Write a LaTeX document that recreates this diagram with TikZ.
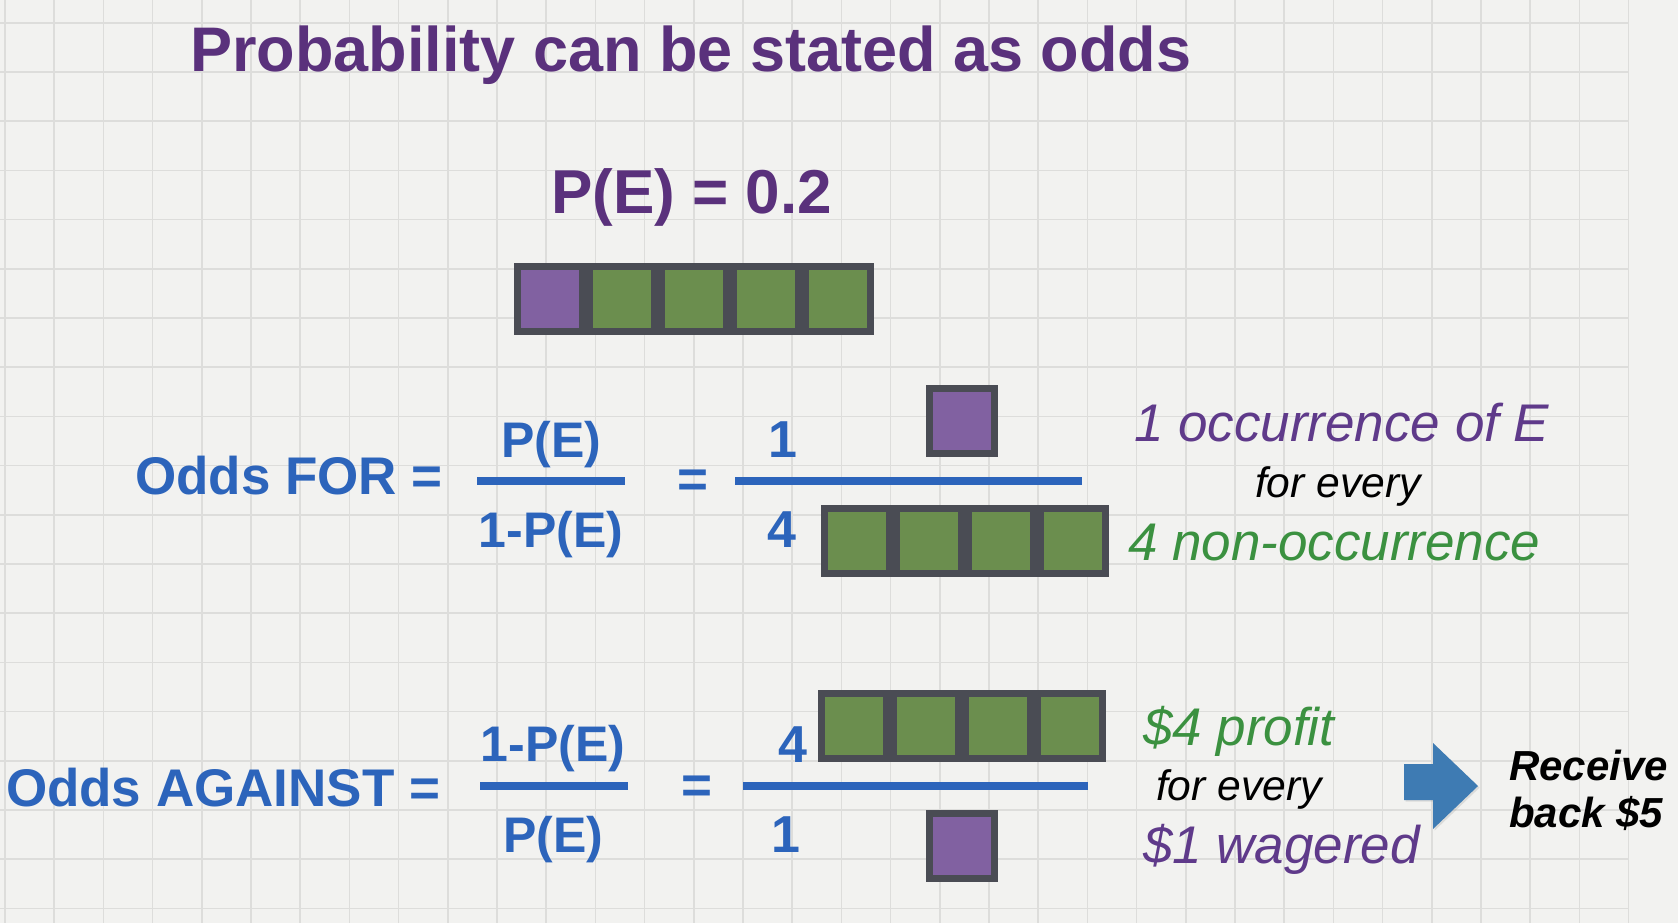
\documentclass[tikz,border=0pt]{standalone}
\usepackage{fontspec}
\setmainfont{Liberation Sans}
\usetikzlibrary{shadows}
\definecolor{bgc}{HTML}{F2F2F0}
\definecolor{gridc}{HTML}{DDDDDB}
\definecolor{ttlpurple}{HTML}{5A317C}
\definecolor{eqblue}{HTML}{2C64BB}
\definecolor{itpurple}{HTML}{5F3A8A}
\definecolor{itgreen}{HTML}{3B9140}
\definecolor{sqpurple}{HTML}{8161A1}
\definecolor{sqgreen}{HTML}{6B8E4E}
\definecolor{sqborder}{HTML}{4A4C54}
\definecolor{arrowblue}{HTML}{3E7BB3}
\tikzset{
  gridline/.style={draw=gridc, line width=0.8pt},
  txt/.style={inner sep=0pt, outer sep=0pt},
  ttl/.style={txt, anchor=base west, text=ttlpurple, font=\fontsize{31.5}{36}\selectfont\bfseries},
  lbl/.style={txt, anchor=base west, text=eqblue, font=\fontsize{26.5}{30}\selectfont\bfseries},
  frc/.style={txt, anchor=base, text=eqblue, font=\fontsize{25}{30}\selectfont\bfseries},
  bar/.style={draw=eqblue, line width=4pt},
  itp/.style={txt, anchor=base west, text=itpurple, font=\fontsize{26.5}{30}\selectfont\itshape},
  itg/.style={txt, anchor=base west, text=itgreen, font=\fontsize{26.5}{30}\selectfont\itshape},
  itk/.style={txt, anchor=base west, text=black, font=\fontsize{21.3}{25}\selectfont\itshape},
  rcv/.style={txt, anchor=base west, text=black, font=\fontsize{21}{25}\selectfont\bfseries\itshape},
  sqbox/.style={rectangle, draw=sqborder, line width=3.5pt, minimum size=32.5pt, inner sep=0pt, outer sep=0pt,
                drop shadow={opacity=0.18, shadow xshift=0.8pt, shadow yshift=-1pt}},
  sqp/.style={sqbox, fill=sqpurple},
  sqg/.style={sqbox, fill=sqgreen},
}
\begin{document}
\begin{tikzpicture}[x=0.5pt, y=-0.5pt]
\useasboundingbox (0,0) rectangle (1678,923);
\fill[bgc] (0,0) rectangle (1678,923);
% graph paper
\foreach \i in {0,...,33} \draw[gridline] ({5+49.2*\i},0) -- ({5+49.2*\i},923);
\foreach \j in {0,...,18} \draw[gridline] (0,{22.7+49.2*\j}) -- (1628.6,{22.7+49.2*\j});

% title
\node[ttl] (title) at (190,71) {Probability can be stated as odds};
\node[txt, anchor=base west, text=ttlpurple, font=\fontsize{31}{36}\selectfont\bfseries] (pe) at (551,213) {P(E) = 0.2};

% row of five
\node[sqp] (r1) at (550,299) {};
\node[sqg] (r2) at (622,299) {};
\node[sqg] (r3) at (694,299) {};
\node[sqg] (r4) at (766,299) {};
\node[sqg] (r5) at (838,299) {};

% Odds FOR
\node[lbl] (oddsfor) at (135,494) {Odds FOR =};
\node[frc] (fnum) at (551,457) {P(E)};
\node[frc] (fden) at (551,547) {1-P(E)};
\draw[bar] (477,481) -- (625,481);
\node[lbl, anchor=base] (feq) at (693,497) {=};
\node[frc, font=\fontsize{26}{30}\selectfont\bfseries] (fone) at (783,457) {1};
\node[frc, font=\fontsize{26}{30}\selectfont\bfseries] (ffour) at (782,547) {4};
\draw[bar] (735,481) -- (1082,481);
\node[sqp] (fp) at (962,421) {};
\node[sqg] (fg1) at (857,541) {};
\node[sqg] (fg2) at (929,541) {};
\node[sqg] (fg3) at (1001,541) {};
\node[sqg] (fg4) at (1073,541) {};
\node[itp] (occ) at (1134,441) {1 occurrence of E};
\node[itk] (fe1) at (1255,497) {for every};
\node[itg] (nonocc) at (1128,560) {4 non-occurrence};

% Odds AGAINST
\node[lbl] (oddsag) at (6,806) {Odds AGAINST =};
\node[frc] (anum) at (553,761) {1-P(E)};
\node[frc] (aden) at (553,852) {P(E)};
\draw[bar] (480,786) -- (628,786);
\node[lbl, anchor=base] (aeq) at (697,803) {=};
\node[frc, font=\fontsize{26}{30}\selectfont\bfseries] (afour) at (793,762) {4};
\node[frc, font=\fontsize{26}{30}\selectfont\bfseries] (aone) at (786,852) {1};
\draw[bar] (743,786) -- (1088,786);
\node[sqg] (ag1) at (854,726) {};
\node[sqg] (ag2) at (926,726) {};
\node[sqg] (ag3) at (998,726) {};
\node[sqg] (ag4) at (1070,726) {};
\node[sqp] (ap) at (962,846) {};
\node[itg] (profit) at (1143,745) {\$4 profit};
\node[itk] (fe2) at (1156,800) {for every};
\node[itp] (wager) at (1143,863) {\$1 wagered};

% block arrow
\fill[arrowblue, drop shadow={opacity=0.2, shadow xshift=0.8pt, shadow yshift=-0.8pt}]
  (1404,764) -- (1433,764) -- (1433,743) -- (1478,786) -- (1433,829) -- (1433,800) -- (1404,800) -- cycle;

\node[rcv] (recv1) at (1509,780) {Receive};
\node[rcv] (recv2) at (1509,827) {back \$5};
\end{tikzpicture}
\end{document}
